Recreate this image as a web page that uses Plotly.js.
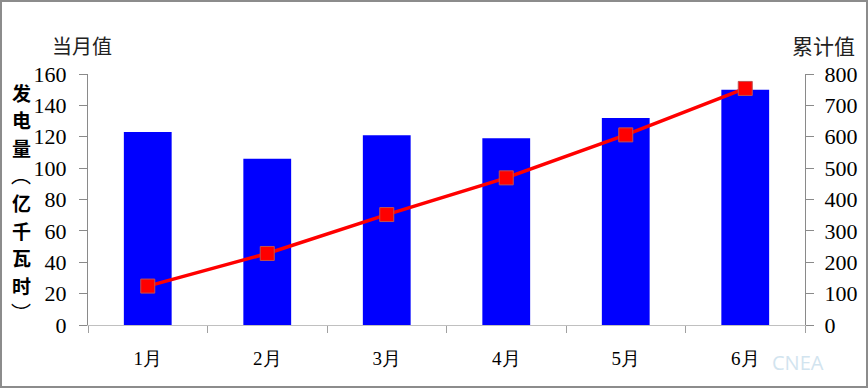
<!DOCTYPE html>
<html>
<head>
<meta charset="utf-8">
<script src="https://cdn.plot.ly/plotly-3.0.1.min.js"></script>
<style>
html,body{margin:0;padding:0;background:#fff;}
#wrap{position:relative;width:868px;height:388px;}
#chart{position:absolute;left:0;top:0;width:868px;height:388px;}
#frame{position:absolute;left:0;top:0;width:868px;height:388px;box-sizing:border-box;border:2px solid #8c8c8c;pointer-events:none;}
</style>
</head>
<body>
<div id="wrap"><div id="chart"></div><div id="frame"></div></div>
<script>
// Data
const months = ["1月", "2月", "3月", "4月", "5月", "6月"];
const monthly = [123, 106, 121, 119, 132, 150];       // 当月值 (left axis)
const cumulative = [124, 228, 352, 469, 606, 754];    // 累计值 (right axis)
const leftTicks = [0, 20, 40, 60, 80, 100, 120, 140, 160];
const rightTicks = [0, 100, 200, 300, 400, 500, 600, 700, 800];
const yTitleChars = ["发", "电", "量", "︵", "亿", "千", "瓦", "时", "︶"];

// layout helpers (pixel -> paper)
const L = 88, R = 805, T = 74, B = 325;
const px = v => (v - L) / (R - L);
const py = v => (B - v) / (B - T);

const serif = "Liberation Serif";
const cjk = "Noto Sans CJK SC";

const traces = [
  {
    type: "bar",
    x: months,
    y: monthly,
    name: "当月值",
    marker: {color: "#0000FF", line: {width: 0}},
    width: 0.4,
    yaxis: "y",
    hoverinfo: "x+y"
  },
  {
    type: "scatter",
    mode: "lines+markers",
    x: months,
    y: cumulative,
    name: "累计值",
    yaxis: "y2",
    line: {color: "#FF0000", width: 3.5},
    marker: {symbol: "square", size: 14, color: "#FF0000", line: {color: "#C05050", width: 1}}
  }
];

const annotations = [];
yTitleChars.forEach((ch, i) => {
  const paren = (ch === "︵" || ch === "︶");
  annotations.push({
    text: ch, xref: "paper", yref: "paper",
    x: px(21), y: py(92 + i * 27.6),
    xanchor: "center", yanchor: "middle", showarrow: false,
    font: paren ? {family: cjk, size: 20, color: "#000"}
                : {family: cjk, size: 19, color: "#000", weight: 700}
  });
});
annotations.push({
  text: "当月值", xref: "paper", yref: "paper", x: px(50), y: py(45),
  xanchor: "left", yanchor: "middle", showarrow: false,
  font: {family: cjk, size: 20, color: "#222"}
});
annotations.push({
  text: "累计值", xref: "paper", yref: "paper", x: px(857), y: py(45),
  xanchor: "right", yanchor: "middle", showarrow: false,
  font: {family: cjk, size: 21, color: "#222"}
});
annotations.push({
  text: "CNEA", xref: "paper", yref: "paper", x: px(770), y: py(362),
  xanchor: "left", yanchor: "middle", showarrow: false,
  font: {family: "Open Sans", size: 20, color: "#d2e4ef"}
});

const layout = {
  width: 868, height: 388,
  margin: {l: L, r: 868 - R, t: T, b: 388 - B, pad: 0},
  paper_bgcolor: "#fff", plot_bgcolor: "#fff",
  showlegend: false,
  xaxis: {
    type: "category",
    tickson: "boundaries",
    ticks: "outside", ticklen: 7, tickcolor: "#a0a0a0", tickwidth: 1,
    showline: true, linecolor: "#c0c0c0", linewidth: 1,
    showgrid: false, zeroline: false,
    tickfont: {family: serif, size: 19, color: "#000"},
    ticklabelstandoff: 16
  },
  yaxis: {
    range: [0, 160], tickvals: leftTicks, ticktext: leftTicks.map(String),
    ticks: "outside", ticklen: 8, tickcolor: "#8a8a8a",
    showline: true, linecolor: "#8a8a8a", linewidth: 1,
    showgrid: false, zeroline: false,
    tickfont: {family: serif, size: 22, color: "#000"},
    ticklabelstandoff: 8
  },
  yaxis2: {
    overlaying: "y", side: "right",
    range: [0, 800], tickvals: rightTicks, ticktext: rightTicks.map(String),
    ticks: "outside", ticklen: 8, tickcolor: "#8a8a8a",
    showline: true, linecolor: "#8a8a8a", linewidth: 1,
    showgrid: false, zeroline: false,
    tickfont: {family: serif, size: 22, color: "#000"},
    ticklabelstandoff: 6
  },
  annotations: annotations
};

Plotly.newPlot("chart", traces, layout, {displayModeBar: false, staticPlot: true});
</script>
</body>
</html>
